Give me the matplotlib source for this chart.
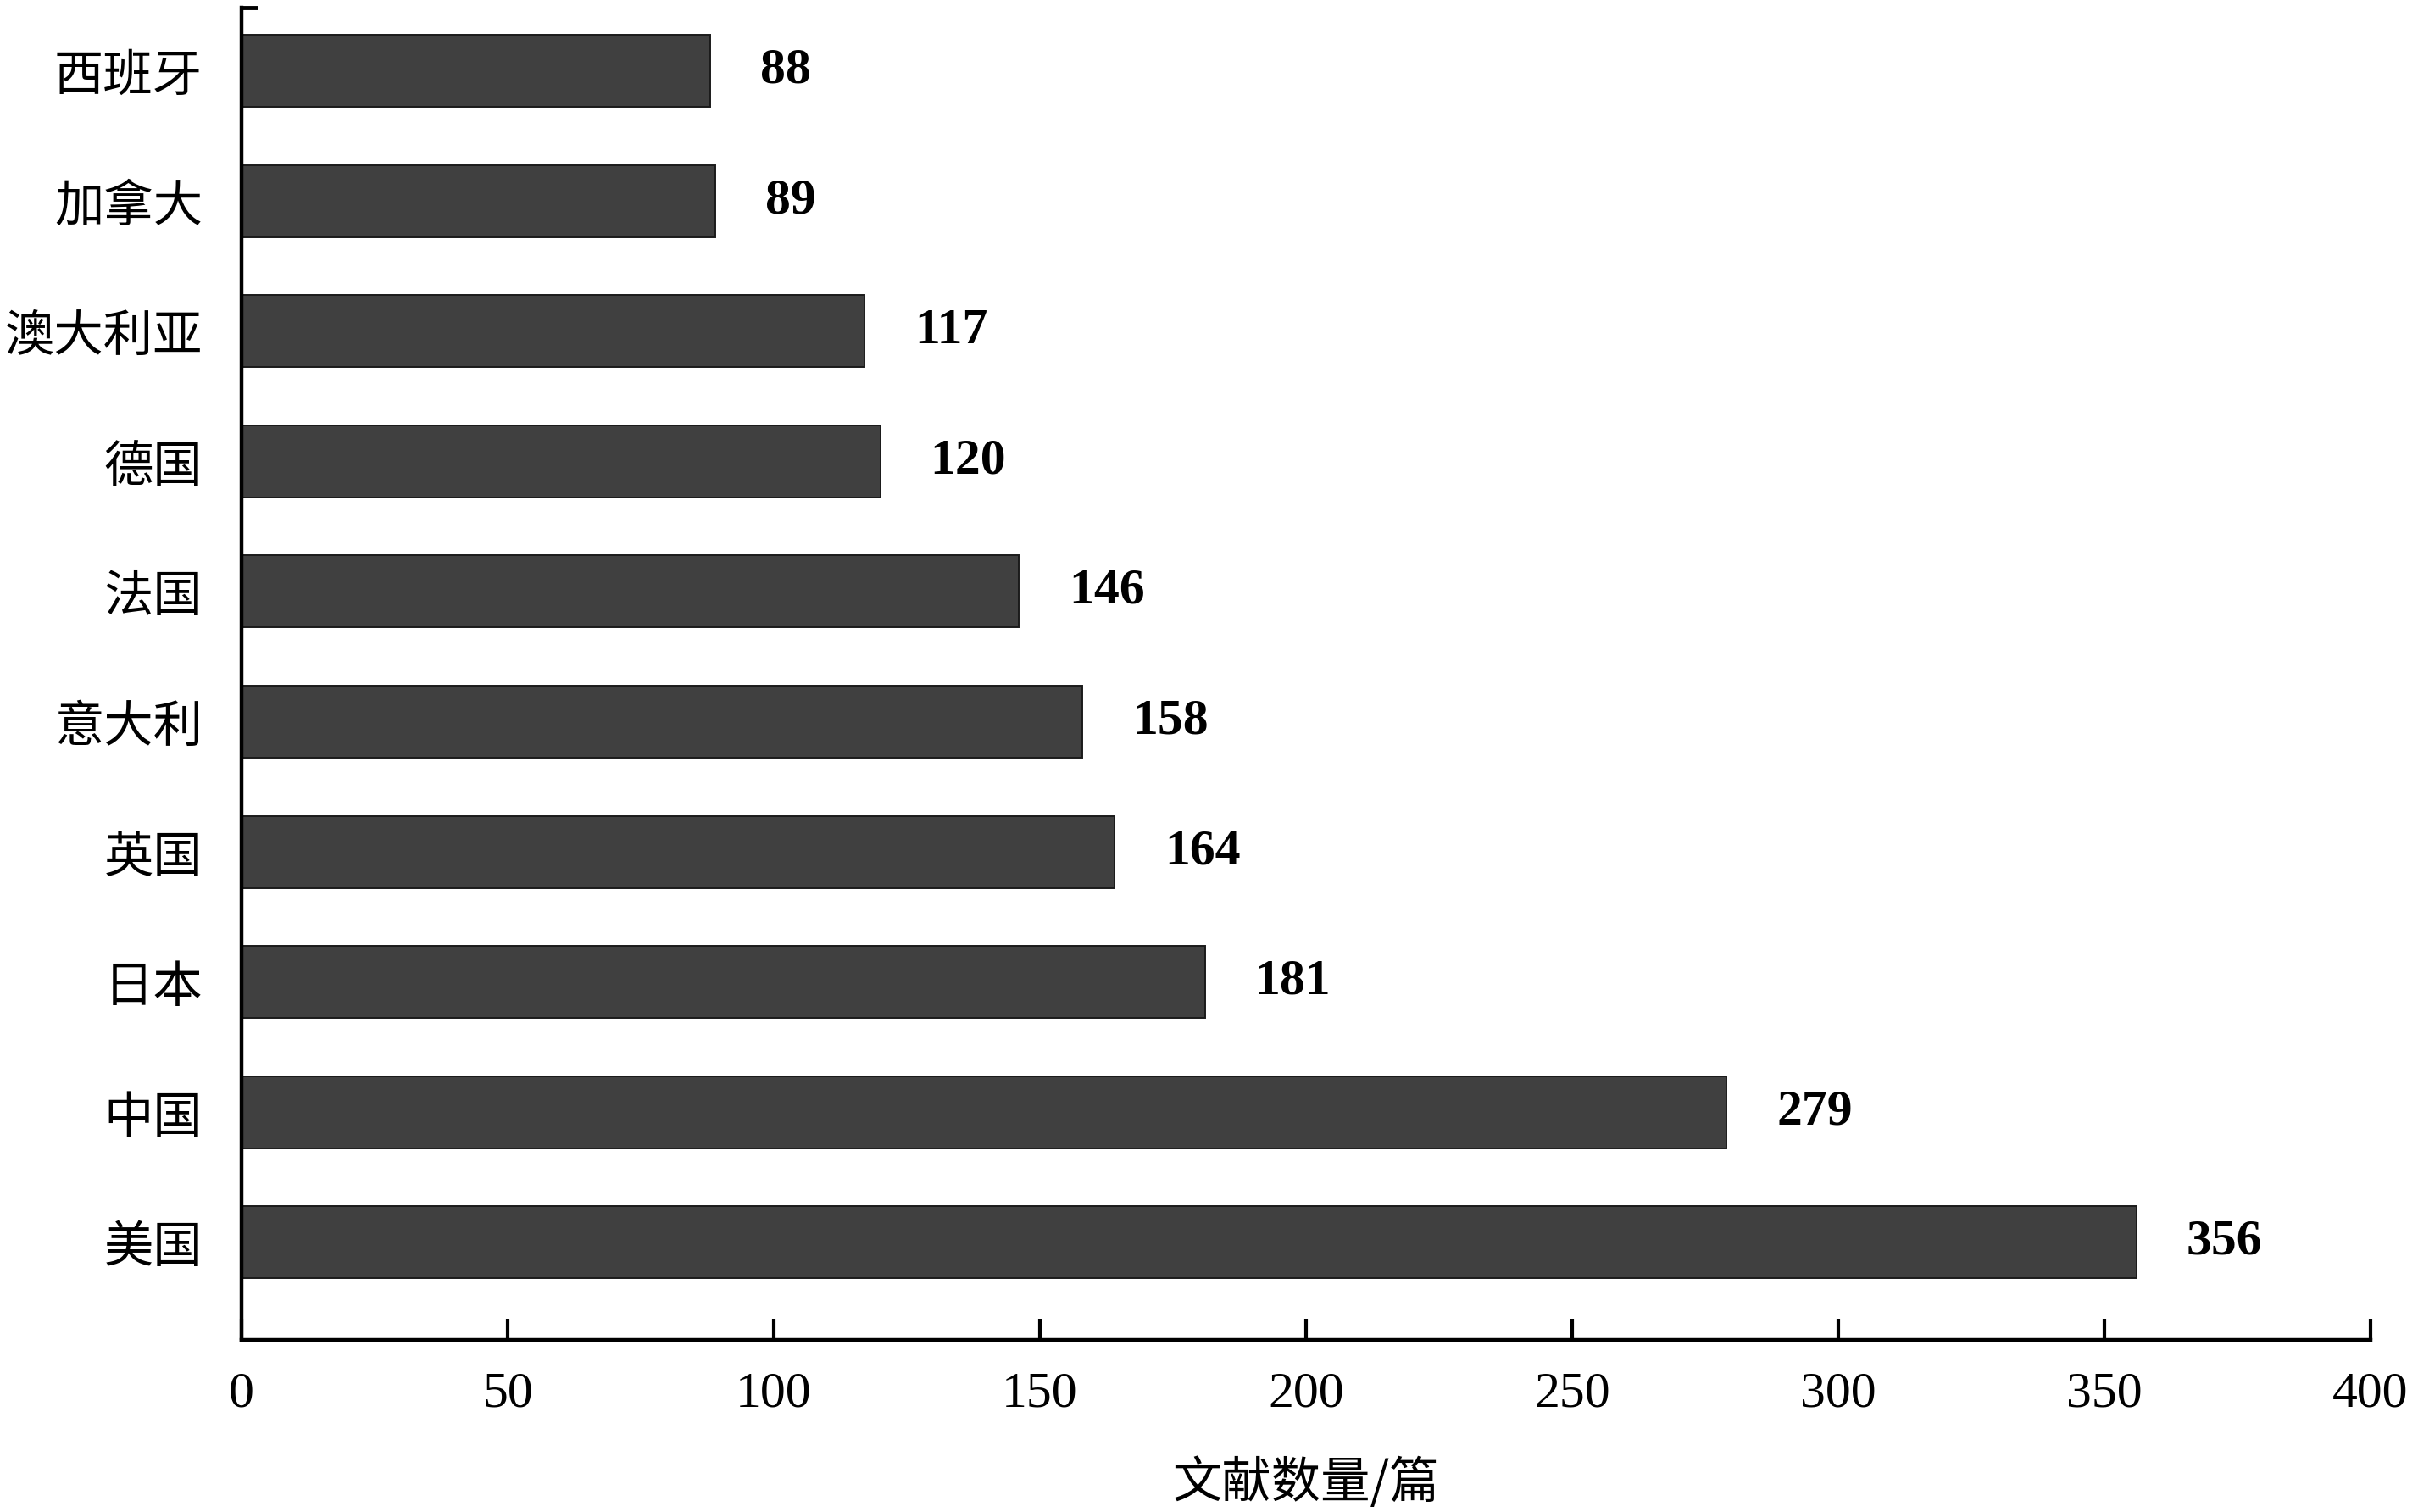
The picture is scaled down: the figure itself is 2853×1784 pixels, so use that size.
import matplotlib
matplotlib.use("Agg")
import matplotlib.pyplot as plt
import numpy as np

categories = ['美国', '中国', '日本', '英国', '意大利', '法国', '德国', '澳大利亚', '加拿大', '西班牙']
values = [356, 279, 181, 164, 158, 146, 120, 117, 89, 88]
xticks = [0, 50, 100, 150, 200, 250, 300, 350, 400]
xlabel = '文献数量/篇'

W, H, DPI = 2853, 1784, 100
fig = plt.figure(figsize=(W / DPI, H / DPI), dpi=DPI)
ax = fig.add_axes([285 / W, 1 - 1581 / H, (2797 - 285) / W, (1581 - 9) / H])

serif = ['Liberation Serif', 'DejaVu Serif']
cjk = ['Noto Sans CJK SC', 'DejaVu Sans']

y = np.arange(len(categories))
ax.barh(y, values, height=0.553, color='#404040', edgecolor='#1a1a1a', linewidth=1.4, zorder=2)

ax.set_xlim(0, 400)
ax.set_ylim(-0.749, 9.485)

ax.set_xticks(xticks)
ax.set_xticklabels([str(t) for t in xticks], fontfamily=serif, fontsize=43)
ax.set_yticks(y)
ax.set_yticklabels(categories, fontfamily=cjk, fontsize=42)
ax.set_yticks([9.485], minor=True)

ax.tick_params(axis='x', direction='in', length=18, width=3, pad=27, colors='black')
ax.tick_params(axis='y', which='major', length=0, pad=33)
ax.tick_params(axis='y', which='minor', direction='in', length=14, width=3.5)

for side in ['top', 'right']:
    ax.spines[side].set_visible(False)
for side in ['left', 'bottom']:
    ax.spines[side].set_linewidth(3.2)
    ax.spines[side].set_color('black')

for yi, v in zip(y, values):
    ax.annotate(str(v), xy=(v, yi), xytext=(42.5, 0), textcoords='offset points',
                ha='left', va='center', fontfamily=serif, fontweight='bold', fontsize=43)

ax.set_xlabel(xlabel, fontfamily=cjk, fontsize=42, labelpad=34)

fig.savefig('out.png', dpi=DPI, facecolor='white')
